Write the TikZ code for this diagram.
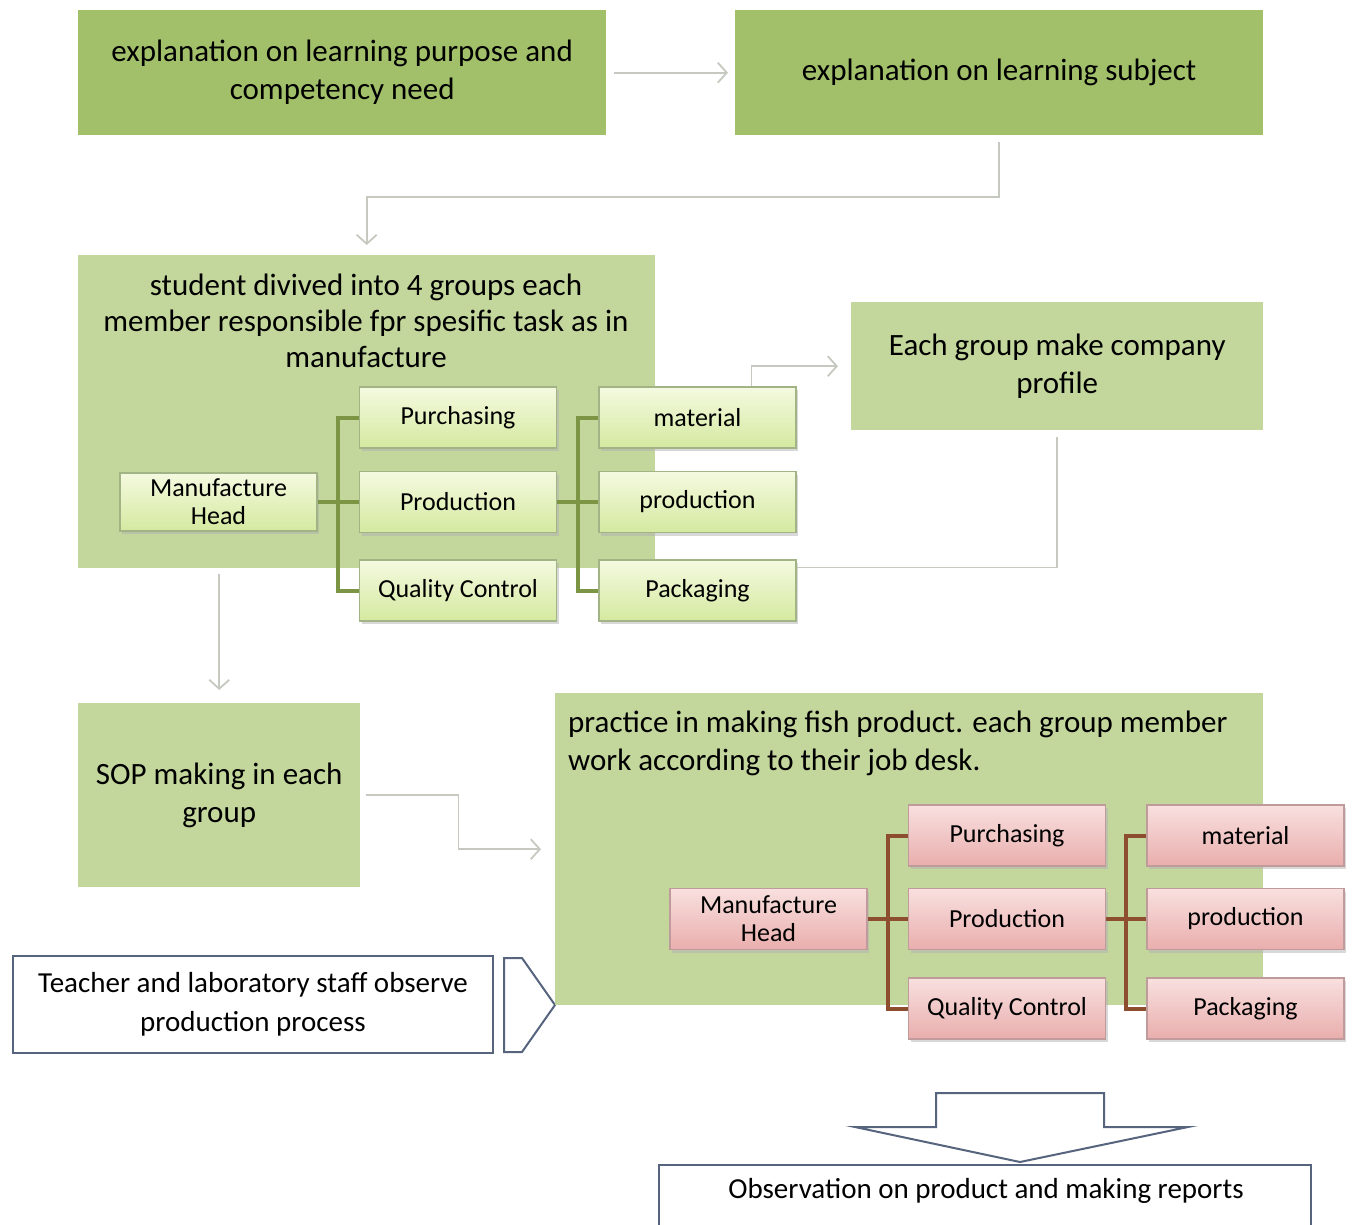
\documentclass[tikz,border=0pt]{standalone}
\usepackage{fontspec}
\setmainfont{Carlito}
\usetikzlibrary{arrows.meta,positioning,shadows}
\definecolor{cTop}{HTML}{A2C06A}
\definecolor{cPanel}{HTML}{C3D69C}
\definecolor{cLeafTop}{HTML}{F4FAE0}
\definecolor{cLeafBot}{HTML}{D5E9A0}
\definecolor{cLeafLine}{HTML}{A2B386}
\definecolor{cRoseTop}{HTML}{F8E0DF}
\definecolor{cRoseBot}{HTML}{E9AEAD}
\definecolor{cRoseLine}{HTML}{BF9C9B}
\definecolor{cOlive}{HTML}{7C9545}
\definecolor{cBrown}{HTML}{8C4E2E}
\definecolor{cFlow}{HTML}{C6C9C0}
\definecolor{cNavy}{HTML}{56647E}

\begin{document}
\begin{tikzpicture}[
    x=1pt, y=-1pt,
    big/.style={font=\fontsize{31}{38}\selectfont},
    mid/.style={font=\fontsize{29}{39}\selectfont},
    topbox/.style={fill=cTop, anchor=north west, inner sep=0pt, align=center, big, minimum width=528pt, minimum height=125pt},
    panel/.style={fill=cPanel, anchor=north west, inner sep=0pt, align=center, big},
    leaf/.style={draw=cLeafLine, line width=1.5pt, top color=cLeafTop, bottom color=cLeafBot, align=center,
      font=\fontsize{26}{28}\selectfont, minimum width=197pt, minimum height=61pt, inner sep=0pt,
      drop shadow={shadow xshift=2pt, shadow yshift=-3pt, fill=black!30}},
    rose/.style={leaf, draw=cRoseLine, top color=cRoseTop, bottom color=cRoseBot},
    tree/.style={cOlive, line width=4pt},
    rtree/.style={cBrown, line width=4pt},
    flow/.style={cFlow, line width=1.8pt, -{Straight Barb[length=9pt, width=20pt, line width=1.8pt]}},
    flowline/.style={cFlow, line width=1.8pt},
    outline/.style={draw=cNavy, line width=2pt, fill=white},
  ]
  \useasboundingbox (0,0) rectangle (1354,1225);

  % --- top row ---
  \node[topbox] (purpose) at (78,10) {explanation on learning purpose and\\competency need};
  \node[topbox] (subject) at (735,10) {explanation on learning subject};

  % --- group panel with green chart ---
  \node[panel, minimum width=577pt, minimum height=313pt] (group) at (78,255) {};
  \node[font=\fontsize{31}{36}\selectfont, align=center, anchor=north, inner sep=0pt] (grouptxt) at (366,274)
    {student divived into 4 groups each\\member responsible fpr spesific task as in\\manufacture};
  \node[panel, minimum width=412pt, minimum height=128pt] (profile) at (851,302) {Each group make company\\profile};

  \node[leaf] (gprod) at (458,502) {Production};
  \node[leaf, above=22pt of gprod] (gpur) {Purchasing};
  \node[leaf, below=26pt of gprod] (gqc) {Quality Control};
  \node[leaf, right=41pt of gpur] (gmat) {material};
  \node[leaf, right=41pt of gprod] (gpro) {production};
  \node[leaf, right=41pt of gqc] (gpack) {Packaging};
  \node[leaf, left=41pt of gprod, minimum height=58pt] (ghead) {Manufacture\\Head};

  \draw[tree] (ghead.east) -- (gprod.west);
  \draw[tree] (gpur.west) -- ++(-21,0) |- (gqc.west);
  \draw[tree] (gprod.east) -- (gpro.west);
  \draw[tree] (gmat.west) -- ++(-20,0) |- (gpack.west);

  % --- lower left ---
  \node[panel, minimum width=282pt, minimum height=184pt] (sop) at (78,703) {SOP making in each\\group};
  \node[outline, mid, align=center, anchor=north west, minimum width=480pt, minimum height=97pt, inner sep=0pt]
    (observe) at (12,955) {Teacher and laboratory staff observe\\production process};
  \draw[outline] (504,958) -- (522,958) -- (555,1005) -- (522,1052) -- (504,1052) -- cycle;

  % --- practice panel with rose chart ---
  \node[panel, minimum width=708pt, minimum height=312pt] (practice) at (555,693) {};
  \node[big, align=left, anchor=north west, inner sep=0pt] (practxt) at (568,711)
    {practice in making fish product. each group member\\work according to their job desk.};

  \node[rose] (rprod) at (1007,919) {Production};
  \node[rose, above=21pt of rprod] (rpur) {Purchasing};
  \node[rose, below=27pt of rprod] (rqc) {Quality Control};
  \node[rose, right=40pt of rpur] (rmat) {material};
  \node[rose, right=40pt of rprod] (rpro) {production};
  \node[rose, right=40pt of rqc] (rpack) {Packaging};
  \node[rose, left=40pt of rprod] (rhead) {Manufacture\\Head};

  \draw[rtree] (rhead.east) -- (rprod.west);
  \draw[rtree] (rpur.west) -- ++(-20,0) |- (rqc.west);
  \draw[rtree] (rprod.east) -- (rpro.west);
  \draw[rtree] (rmat.west) -- ++(-20,0) |- (rpack.west);

  % --- bottom ---
  \draw[outline] (936,1093) -- (1104,1093) -- (1104,1127) -- (1188,1127) -- (1020,1162)
    -- (855,1127) -- (936,1127) -- cycle;
  \node[outline, anchor=north west, minimum width=652pt, minimum height=90pt] (reports) at (658,1164) {};
  \node[mid, inner sep=0pt] (reptxt) at (986,1191) {Observation on product and making reports};

  % --- flow arrows ---
  \draw[flow, shorten <=8pt, shorten >=7pt] (purpose) -- (subject);
  \draw[flow, shorten <=7pt, shorten >=10pt] (subject.south) -- ++(0,62) -| (group.north);
  \draw[flow, shorten >=13pt] ([xshift=54pt]gmat.north) |- (profile.west);
  \draw[flowline, shorten <=7pt] (profile.south) |- ([yshift=23pt]gpack.east);
  \draw[flow, shorten <=6pt, shorten >=13pt] (sop.north |- group.south) -- (sop.north);
  \draw[flow, shorten <=6pt, shorten >=14pt] (sop.east) -- ++(98,0) |- (practice.west);
\end{tikzpicture}
\end{document}
